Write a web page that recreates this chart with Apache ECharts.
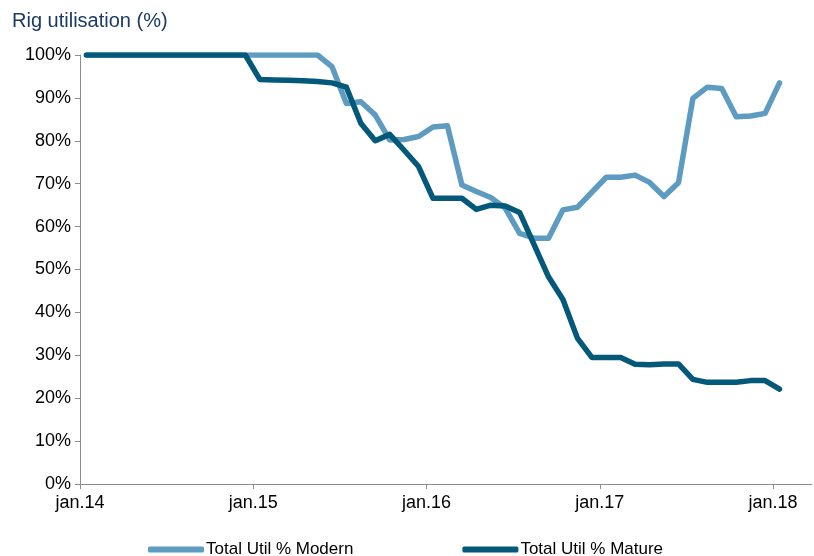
<!DOCTYPE html>
<html>
<head>
<meta charset="utf-8">
<script src="https://cdn.jsdelivr.net/npm/echarts@6/dist/echarts.min.js"></script>
<style>html,body{margin:0;padding:0;background:#fff}#c{width:814px;height:556px}</style>
</head>
<body>
<div id="c"></div>
<script>
// Month index (0 = jan.14), points plotted mid-month
var monthCount = 49;
var yearTickLabels = ['jan.14', 'jan.15', 'jan.16', 'jan.17', 'jan.18'];
var seriesNames = ['Total Util % Modern', 'Total Util % Mature'];

var modern = [
  100,100,100,100,100,100,100,100,100,100,100,100,
  100,100,100,100,100,97.3,88.7,89.1,86.0,80.2,80.3,81.0,
  83.2,83.5,69.7,68.2,66.8,64.3,58.4,57.3,57.3,63.9,64.5,68.0,
  71.5,71.5,72.0,70.3,67.0,70.2,89.9,92.5,92.2,85.6,85.8,86.4,
  93.5
];
var mature = [
  100,100,100,100,100,100,100,100,100,100,100,100,
  94.3,94.2,94.1,94.0,93.8,93.5,92.5,84.1,80.0,81.5,77.8,74.0,
  66.6,66.6,66.6,64.0,65.0,64.8,63.3,55.8,48.3,43.0,34.0,29.5,
  29.5,29.5,27.9,27.8,28.0,28.0,24.4,23.7,23.7,23.7,24.1,24.1,
  22.1
];

function pairs(vals) {
  return vals.map(function (v, i) { return [i + 0.45, v]; });
}

var chart = echarts.init(document.getElementById('c'), null, {renderer: 'canvas'});
var axisGray = '#8c8c8c';
var font = 'Liberation Sans, Arial, sans-serif';

chart.setOption({
  animation: false,
  backgroundColor: '#ffffff',
  title: {
    text: 'Rig utilisation (%)',
    left: 7, top: 6,
    textStyle: {fontFamily: font, fontSize: 20, fontWeight: 'normal', color: '#1b3a63'}
  },
  legend: {
    left: 143, top: 536,
    itemWidth: 56, itemHeight: 6, itemGap: 109,
    icon: 'roundRect',
    textStyle: {fontFamily: font, fontSize: 17, color: '#000', padding: [0, 0, 0, -3]},
    data: seriesNames
  },
  grid: {left: 80, top: 55, right: 2, bottom: 72, containLabel: false},
  xAxis: {
    type: 'value',
    min: 0, max: 50.7, interval: 12,
    axisLine: {show: true, lineStyle: {color: axisGray, width: 1}},
    axisTick: {show: true, length: 5, lineStyle: {color: axisGray}},
    splitLine: {show: false},
    axisLabel: {
      fontFamily: font, fontSize: 18, color: '#000', margin: 10,
      showMaxLabel: false,
      formatter: function (v) {
        var i = Math.round(v / 12);
        return (Math.abs(v - i * 12) < 1e-6 && yearTickLabels[i]) ? yearTickLabels[i] : '';
      }
    }
  },
  yAxis: {
    type: 'value',
    min: 0, max: 100, interval: 10,
    axisLine: {show: true, lineStyle: {color: axisGray, width: 1}},
    axisTick: {show: true, length: 5, lineStyle: {color: axisGray}},
    splitLine: {show: false},
    axisLabel: {fontFamily: font, fontSize: 18, color: '#000', margin: 9, formatter: '{value}%'}
  },
  series: [
    {
      name: seriesNames[0], type: 'line', data: pairs(modern),
      showSymbol: false, symbol: 'none',
      lineStyle: {color: '#5d9cc0', width: 5.5, join: 'round', cap: 'round'},
      itemStyle: {color: '#5d9cc0'}
    },
    {
      name: seriesNames[1], type: 'line', data: pairs(mature),
      showSymbol: false, symbol: 'none',
      lineStyle: {color: '#04597b', width: 5.5, join: 'round', cap: 'round'},
      itemStyle: {color: '#04597b'}
    }
  ]
});
</script>
</body>
</html>
